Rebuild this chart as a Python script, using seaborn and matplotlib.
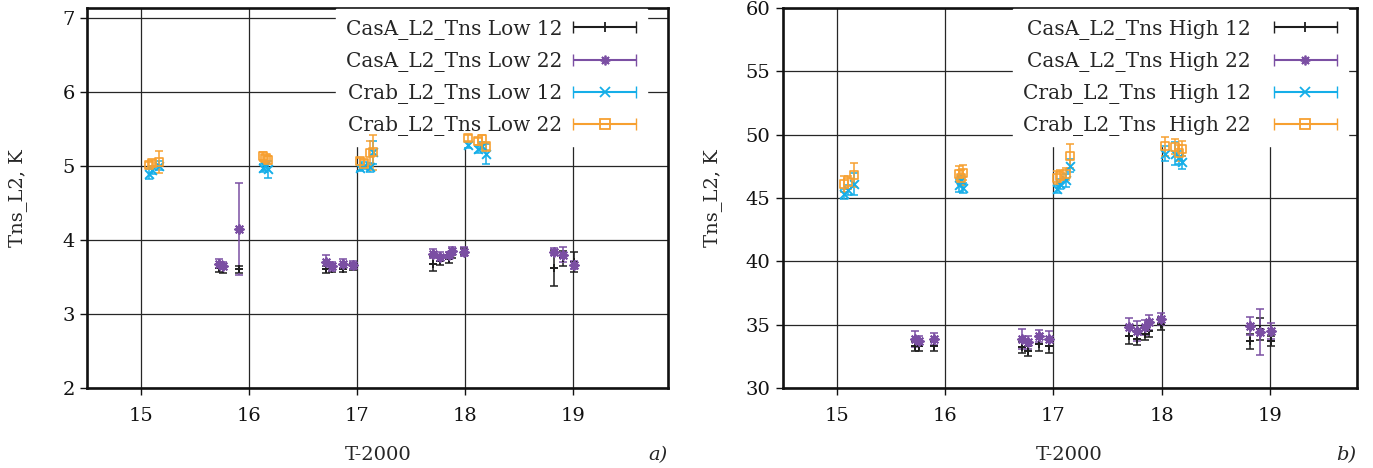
import numpy as np
import pandas as pd
import seaborn as sns
import matplotlib.pyplot as plt
from matplotlib.lines import Line2D
from matplotlib.collections import LineCollection
from matplotlib.container import ErrorbarContainer
from matplotlib.legend_handler import HandlerErrorbar

# observation epochs (T-2000)
t_casa = [15.72, 15.76, 15.90, 16.71, 16.77, 16.87, 16.96, 17.70, 17.77, 17.85, 17.88, 17.99, 18.82, 18.91, 19.01]
t_crab = [15.07, 15.10, 15.16, 16.13, 16.15, 16.17, 17.03, 17.06, 17.12, 17.15, 18.03, 18.12, 18.16, 18.19]

# panel a) - Low
casa_low_12 = [3.62, 3.60, 3.60, 3.60, 3.61, 3.61, 3.64, 3.68, 3.72, 3.74, 3.80, 3.84, 3.62, 3.75, 3.70]
casa_low_12_err = [0.05, 0.05, 0.05, 0.05, 0.05, 0.05, 0.05, 0.10, 0.06, 0.05, 0.05, 0.05, 0.24, 0.10, 0.13]
casa_low_22 = [3.68, 3.65, 4.15, 3.70, 3.64, 3.68, 3.66, 3.81, 3.77, 3.79, 3.85, 3.84, 3.84, 3.80, 3.66]
casa_low_22_err = [0.06, 0.05, 0.62, 0.10, 0.06, 0.06, 0.05, 0.06, 0.06, 0.05, 0.05, 0.06, 0.05, 0.10, 0.06]
crab_low_12 = [4.89, 4.94, 5.00, 4.97, 4.99, 4.95, 4.97, 5.00, 4.98, 5.18, 5.28, 5.22, 5.27, 5.16]
crab_low_12_err = [0.07, 0.05, 0.06, 0.05, 0.05, 0.12, 0.04, 0.05, 0.06, 0.15, 0.04, 0.05, 0.05, 0.13]
crab_low_22 = [5.01, 5.04, 5.05, 5.13, 5.10, 5.08, 5.06, 5.03, 5.17, 5.18, 5.38, 5.33, 5.36, 5.26]
crab_low_22_err = [0.04, 0.04, 0.15, 0.06, 0.05, 0.05, 0.05, 0.05, 0.16, 0.24, 0.04, 0.05, 0.06, 0.05]

# panel b) - High
casa_high_12 = [33.34, 33.3, 33.3, 33.2, 32.95, 33.5, 33.3, 34.1, 33.9, 34.3, 34.5, 35.05, 33.7, 34.65, 33.7]
casa_high_12_err = [0.4, 0.4, 0.4, 0.4, 0.4, 0.6, 0.5, 0.6, 0.5, 0.5, 0.5, 0.5, 0.6, 0.9, 0.4]
casa_high_22 = [33.87, 33.7, 33.87, 33.87, 33.6, 34.1, 33.9, 34.8, 34.5, 34.8, 35.2, 35.45, 34.9, 34.4, 34.5]
casa_high_22_err = [0.6, 0.4, 0.5, 0.8, 0.5, 0.5, 0.6, 0.7, 0.8, 0.6, 0.6, 0.5, 0.7, 1.8, 0.6]
crab_high_12 = [45.3, 45.6, 46.1, 46.0, 46.4, 45.8, 45.7, 46.1, 46.4, 47.55, 48.5, 48.5, 48.2, 47.8]
crab_high_12_err = [0.4, 0.4, 0.9, 0.5, 0.4, 0.4, 0.3, 0.4, 0.5, 0.5, 0.6, 0.9, 0.5, 0.5]
crab_high_22 = [46.1, 46.24, 46.8, 46.9, 46.6, 47.0, 46.6, 46.7, 46.9, 48.3, 49.1, 49.05, 48.55, 48.9]
crab_high_22_err = [0.6, 0.5, 0.95, 0.6, 0.6, 0.6, 0.5, 0.5, 0.5, 0.95, 0.75, 0.6, 0.6, 0.6]

x_ticks = [15, 16, 17, 18, 19]

colors = ['#1e1e1e', '#7b4fa3', '#15aee8', '#f7a030']
markers = ['+', (8, 2, 0), 'x', 's']

sns.set_theme(style='white')
plt.rcParams['font.family'] = ['DejaVu Serif']
plt.rcParams['mathtext.fontset'] = 'dejavuserif'


def make_df(vals):
    rows = []
    for label, t, v, e in vals:
        for a, b, c in zip(t, v, e):
            rows.append({'series': label, 't': a, 'v': b, 'err': c})
    return pd.DataFrame(rows)


def draw_panel(ax, df, labels, xlim, ylim, yticks, tag, leg_x, text_pad):
    handles = []
    for i, lab in enumerate(labels):
        sub = df[df['series'] == lab]
        col = colors[i]
        ax.errorbar(sub['t'], sub['v'], yerr=sub['err'], fmt='none', ecolor=col,
                    elinewidth=1.1, capsize=3, capthick=1.1, zorder=3)
        if markers[i] == 's':
            sns.scatterplot(data=sub, x='t', y='v', ax=ax, marker='s', s=34,
                            color=col, facecolor='none', edgecolor=col, linewidth=1.2,
                            legend=False, zorder=4)
        else:
            sns.scatterplot(data=sub, x='t', y='v', ax=ax, marker=markers[i], s=40,
                            color=col, linewidth=1.4, legend=False, zorder=4)
        # legend proxy drawn as a horizontal error bar, like the original key
        pl = Line2D([], [], color=col, marker=markers[i], linestyle='none',
                    markersize=7, markerfacecolor='none', markeredgewidth=1.3)
        cap = Line2D([], [], color=col, marker='|', markersize=8, linestyle='none')
        bar = LineCollection([], colors=col, linewidths=1.5)
        handles.append(ErrorbarContainer((pl, (cap,), (bar,)), has_xerr=True,
                                         has_yerr=False, label=lab))

    ax.set_xlim(*xlim)
    ax.set_ylim(*ylim)
    ax.set_xticks(x_ticks)
    ax.set_yticks(yticks)
    ax.grid(True, color='0.15', linewidth=0.9)
    ax.set_axisbelow(True)
    for sp in ax.spines.values():
        sp.set_color('#111111')
        sp.set_linewidth(1.9)
    ax.tick_params(axis='both', direction='out', length=5, width=1, colors='#111111',
                   labelsize=14, left=True, bottom=True, pad=4)
    ax.tick_params(axis='x', pad=9)
    ax.set_xlabel('T-2000', fontsize=14, labelpad=15)
    ax.set_ylabel('Tns_L2, K', fontsize=14)
    ax.yaxis.set_label_coords(-0.105, 0.5)
    ax.text(1.0, -0.176, tag, transform=ax.transAxes, fontsize=14, style='italic',
            ha='right', va='center')

    leg = ax.legend(handles=handles, loc='upper right', bbox_to_anchor=(leg_x, 1.012),
                    markerfirst=False, fontsize=14.5, handlelength=3.2,
                    handletextpad=text_pad, labelspacing=0.6, borderaxespad=0.3,
                    borderpad=0.5, frameon=True, fancybox=False, framealpha=1,
                    handler_map={ErrorbarContainer: HandlerErrorbar(xerr_size=1.55, numpoints=1)})
    leg.get_frame().set_facecolor('white')
    leg.get_frame().set_edgecolor('white')
    # above the grid, below the data
    leg.set_zorder(2.5)


df_low = make_df([
    ('CasA_L2_Tns Low 12', t_casa, casa_low_12, casa_low_12_err),
    ('CasA_L2_Tns Low 22', t_casa, casa_low_22, casa_low_22_err),
    ('Crab_L2_Tns Low 12', t_crab, crab_low_12, crab_low_12_err),
    ('Crab_L2_Tns Low 22', t_crab, crab_low_22, crab_low_22_err),
])
df_high = make_df([
    ('CasA_L2_Tns High 12', t_casa, casa_high_12, casa_high_12_err),
    ('CasA_L2_Tns High 22', t_casa, casa_high_22, casa_high_22_err),
    ('Crab_L2_Tns  High 12', t_crab, crab_high_12, crab_high_12_err),
    ('Crab_L2_Tns  High 22', t_crab, crab_high_22, crab_high_22_err),
])

fig = plt.figure(figsize=(13.73, 4.68), dpi=100)
ax1 = fig.add_axes([0.0637, 0.171, 0.4228, 0.812])
ax2 = fig.add_axes([0.570, 0.171, 0.418, 0.812])

draw_panel(ax1, df_low, df_low['series'].unique(), (14.5, 19.88), (2, 7.13),
           [2, 3, 4, 5, 6, 7], 'a)', 0.974, 0.5)
draw_panel(ax2, df_high, df_high['series'].unique(), (14.5, 19.8), (30, 60),
           [30, 35, 40, 45, 50, 55, 60], 'b)', 0.995, 1.1)

fig.savefig('out.png', dpi=100)
